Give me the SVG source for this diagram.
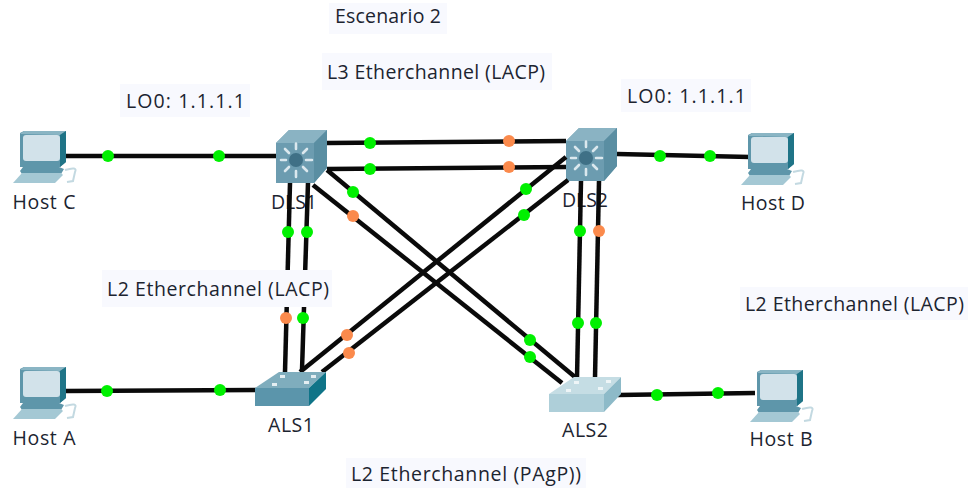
<svg xmlns="http://www.w3.org/2000/svg" width="968" height="488" viewBox="0 0 968 488">
<style>
text{font-family:"Open Sans","Noto Sans","Liberation Sans",sans-serif;font-size:19.5px;fill:#1c2430}
.n{text-anchor:middle}
.lb{fill:#f8f9fe}
.c line{stroke:#0a0a0a;stroke-width:4.5}
.g{fill:#00f000}.o{fill:#fb8a4c}
</style>
<defs>
<g id="pc">
<path d="M7,3 L11,1 L53,1 L53,32 L47,37 L7,37 Z" fill="#5e96aa"/>
<path d="M7,4 L11,1 L53,1 L47,5 Z" fill="#8ab5c4"/>
<path d="M47,5 L53,1 L53,32 L47,37 Z" fill="#1f7487"/>
<rect x="10" y="5" width="37" height="26" rx="3" fill="#d2e2ea"/>
<path d="M10,37 L46,37 L51,39 L48,44 L9,44 L7,41 Z" fill="#5e96aa"/>
<path d="M9,43 L48,43 L50,45 L42,53 L0,53 Z" fill="#a4c8d4"/>
<path d="M52,40 Q65,36 62,42 L60,51 L54,52" fill="none" stroke="#c3d9e1" stroke-width="2"/>
</g>
<g id="mls">
<path d="M0,13 L13,0 L51,0 L51,38 L38,53 L0,53 Z" fill="#6e9db0"/>
<path d="M0,13 L13,0 L51,0 L38,13 Z" fill="#8ab3c3"/>
<path d="M38,13 L51,0 L51,38 L38,53 Z" fill="#5a8ea2"/>
<rect x="0" y="13" width="38" height="40" fill="#6c9cb0"/>
<g stroke="#dbe8ee" stroke-width="2.6" stroke-linecap="round">
<path d="M20,19 V13.5M20,41 V47M5,30 H10M30,30 H36M9,19 L13,23M31,19 L27,23M9,41 L13,37M31,41 L27,37"/>
</g>
<circle cx="20" cy="30" r="7" fill="#3f7086"/>
</g>
</defs>
<rect width="968" height="488" fill="#fff"/>
<g id="labels">
<g id="label-title"><rect class="lb" x="329" y="3" width="118" height="31"/><text x="335" y="23" textLength="106">Escenario 2</text></g>
<g id="label-l3"><rect class="lb" x="322" y="53" width="230" height="37"/><text x="327" y="79" textLength="218">L3 Etherchannel (LACP)</text></g>
<g id="label-lo-a"><rect class="lb" x="120" y="84" width="130" height="33"/><text x="126" y="108" textLength="119">LO0: 1.1.1.1</text></g>
<g id="label-lo-b"><rect class="lb" x="621" y="79" width="130" height="33"/><text x="627" y="103" textLength="119">LO0: 1.1.1.1</text></g>
<g id="label-l2b"><rect class="lb" x="740" y="287" width="228" height="33"/><text x="745" y="311" textLength="219">L2 Etherchannel (LACP)</text></g>
<g id="label-l2c"><rect class="lb" x="346" y="458" width="240" height="30"/><text x="351" y="481" textLength="230">L2 Etherchannel (PAgP))</text></g>
</g>
<g id="dls1"><use href="#mls" x="276" y="130"/><text class="n" x="294" y="209" textLength="46">DLS1</text></g>
<g id="dls2"><use href="#mls" x="566" y="128"/><text class="n" x="585" y="207" textLength="46">DLS2</text></g>
<g id="connectors" class="c">
<line x1="65" y1="156" x2="276" y2="156"/>
<line x1="327" y1="143" x2="566" y2="141"/>
<line x1="327" y1="169" x2="566" y2="167"/>
<line x1="327" y1="170" x2="575" y2="377"/>
<line x1="313" y1="185" x2="562" y2="383"/>
<line x1="566" y1="157" x2="300" y2="372"/>
<line x1="568" y1="180" x2="322" y2="372"/>
<line x1="290" y1="183" x2="285" y2="372"/>
<line x1="308" y1="183" x2="302" y2="370"/>
<line x1="581" y1="181" x2="577" y2="378"/>
<line x1="599" y1="181" x2="595" y2="378"/>
<line x1="617" y1="154" x2="750" y2="157"/>
<line x1="65" y1="391" x2="256" y2="390"/>
<line x1="618" y1="395" x2="755" y2="393"/>
<g>
<circle class="g" cx="108" cy="156" r="6"/><circle class="g" cx="219" cy="156" r="6"/>
<circle class="g" cx="370" cy="143" r="6"/><circle class="o" cx="509" cy="141" r="6"/>
<circle class="g" cx="370" cy="169" r="6"/><circle class="o" cx="509" cy="167" r="6"/>
<circle class="g" cx="353" cy="192" r="6"/><circle class="g" cx="530" cy="340" r="6"/>
<circle class="o" cx="353" cy="216" r="6"/><circle class="g" cx="530" cy="357" r="6"/>
<circle class="g" cx="526" cy="189" r="6"/><circle class="o" cx="347" cy="335" r="6"/>
<circle class="g" cx="524" cy="215" r="6"/><circle class="o" cx="349" cy="353" r="6"/>
<circle class="g" cx="288" cy="232" r="6"/><circle class="o" cx="286" cy="318" r="6"/>
<circle class="g" cx="307" cy="232" r="6"/><circle class="g" cx="303" cy="318" r="6"/>
<circle class="g" cx="580" cy="231" r="6"/><circle class="g" cx="578" cy="323" r="6"/>
<circle class="o" cx="599" cy="231" r="6"/><circle class="g" cx="596" cy="323" r="6"/>
<circle class="g" cx="660" cy="156" r="6"/><circle class="g" cx="710" cy="156" r="6"/>
<circle class="g" cx="107" cy="391" r="6"/><circle class="g" cx="220" cy="390" r="6"/>
<circle class="g" cx="657" cy="395" r="6"/><circle class="g" cx="718" cy="393" r="6"/>
</g>
</g>
<g id="label-l2a"><rect class="lb" x="102" y="270" width="230" height="37"/><text x="107" y="296" textLength="222">L2 Etherchannel (LACP)</text></g>
<g id="host-c"><use href="#pc" x="13" y="130"/><text class="n" x="44" y="209" textLength="63">Host C</text></g>
<g id="host-a"><use href="#pc" x="13" y="366"/><text class="n" x="44" y="445" textLength="63">Host A</text></g>
<g id="host-d"><use href="#pc" x="741" y="132"/><text class="n" x="773" y="210" textLength="64">Host D</text></g>
<g id="host-b"><use href="#pc" x="750" y="369"/><text class="n" x="781" y="446" textLength="63">Host B</text></g>
<g id="als1">
<path d="M255,388 L279,372 L326,372 L309,388 Z" fill="#7fadbd"/>
<rect x="255" y="388" width="54" height="18" fill="#5b95ab"/>
<path d="M309,388 L326,372 L326,389 L309,406 Z" fill="#0f7488"/>
<g fill="#e4eef2"><rect x="280" y="375" width="5" height="3"/><rect x="311" y="375" width="5" height="3"/><rect x="272" y="383" width="5" height="3"/><rect x="304" y="381" width="5" height="3"/></g>
<text class="n" x="291" y="432" textLength="46">ALS1</text>
</g>
<g id="als2">
<path d="M549,394 L574,377 L621,377 L604,394 Z" fill="#c5dde4"/>
<rect x="549" y="394" width="55" height="18" fill="#aecfd9"/>
<path d="M604,394 L621,377 L621,394 L604,412 Z" fill="#8dbac8"/>
<g fill="#eef5f7"><rect x="574" y="381" width="5" height="3"/><rect x="606" y="380" width="5" height="3"/><rect x="566" y="389" width="5" height="3"/><rect x="598" y="387" width="5" height="3"/></g>
<text class="n" x="585" y="437" textLength="46">ALS2</text>
</g>
</svg>
